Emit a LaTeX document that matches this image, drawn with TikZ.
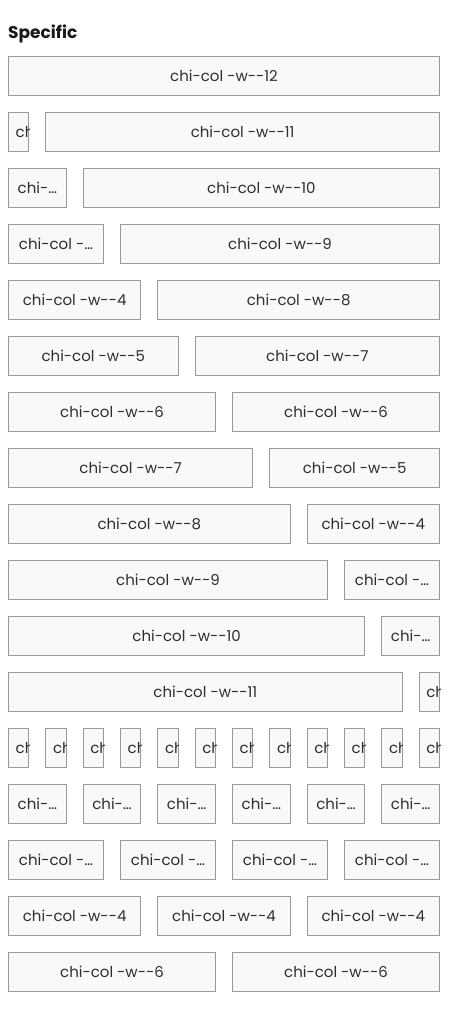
\documentclass[tikz,border=0pt]{standalone}
\usepackage{fontspec}
\setmainfont{Poppins}
\newfontfamily\boxfont{Poppins}
\definecolor{boxfill}{HTML}{F9F9F9}
\definecolor{boxline}{HTML}{9A9A9A}
\definecolor{txt}{HTML}{2E2E2E}
\tikzset{
  cbox/.style={draw=boxline, fill=boxfill, line width=1pt, inner sep=0pt,
    minimum height=39pt, text=txt, font=\boxfont\fontsize{15}{17}\selectfont},
  cliptext/.style={text=txt, font=\boxfont\fontsize{15}{17}\selectfont, inner sep=0pt, anchor=west},
  titletext/.style={text=black!90, font=\bfseries\fontsize{17}{20}\selectfont, inner sep=0pt, anchor=base west}
}
% name, row, start column, span, label
\newcommand\colbox[5]{%
  \pgfmathsetmacro\bx{8+#3*37.33333}%
  \pgfmathsetmacro\by{56+(#2-1)*56}%
  \pgfmathsetmacro\bw{#4*37.33333-17}%
  \node[cbox, minimum width=\bw pt, anchor=north west] (#1) at (\bx,\by) {#5};%
}
% one-column box with clipped text
\newcommand\colone[3]{% name,row,start
  \colbox{#1}{#2}{#3}{1}{}%
  \begin{scope}
    \clip (#1.north west) rectangle (#1.south east);
    \node[cliptext] (#1t) at ([xshift=7.5pt]#1.west) {chi};
  \end{scope}%
}
\begin{document}
\begin{tikzpicture}[x=1pt,y=-1pt]
\useasboundingbox[fill=white] (0,0) rectangle (448,1016);
\node[titletext] (title) at (8,38.7) {Specific};
% row 1
\colbox{r1a}{1}{0}{12}{chi-col -w--12}
% rows 2-12
\colone{r2a}{2}{0}
\colbox{r2b}{2}{1}{11}{chi-col -w--11}
\colbox{r3a}{3}{0}{2}{chi-…}
\colbox{r3b}{3}{2}{10}{chi-col -w--10}
\colbox{r4a}{4}{0}{3}{chi-col -…}
\colbox{r4b}{4}{3}{9}{chi-col -w--9}
\colbox{r5a}{5}{0}{4}{chi-col -w--4}
\colbox{r5b}{5}{4}{8}{chi-col -w--8}
\colbox{r6a}{6}{0}{5}{chi-col -w--5}
\colbox{r6b}{6}{5}{7}{chi-col -w--7}
\colbox{r7a}{7}{0}{6}{chi-col -w--6}
\colbox{r7b}{7}{6}{6}{chi-col -w--6}
\colbox{r8a}{8}{0}{7}{chi-col -w--7}
\colbox{r8b}{8}{7}{5}{chi-col -w--5}
\colbox{r9a}{9}{0}{8}{chi-col -w--8}
\colbox{r9b}{9}{8}{4}{chi-col -w--4}
\colbox{r10a}{10}{0}{9}{chi-col -w--9}
\colbox{r10b}{10}{9}{3}{chi-col -…}
\colbox{r11a}{11}{0}{10}{chi-col -w--10}
\colbox{r11b}{11}{10}{2}{chi-…}
\colbox{r12a}{12}{0}{11}{chi-col -w--11}
\colone{r12b}{12}{11}
% row 13: twelve 1-column boxes
\foreach \k in {0,...,11}{\colone{r13c\k}{13}{\k}}
% row 14: six 2-column boxes
\foreach \k in {0,...,5}{\colbox{r14c\k}{14}{2*\k}{2}{chi-…}}
% row 15: four 3-column boxes
\foreach \k in {0,...,3}{\colbox{r15c\k}{15}{3*\k}{3}{chi-col -…}}
% row 16: three 4-column boxes
\foreach \k in {0,...,2}{\colbox{r16c\k}{16}{4*\k}{4}{chi-col -w--4}}
% row 17: two 6-column boxes
\foreach \k in {0,...,1}{\colbox{r17c\k}{17}{6*\k}{6}{chi-col -w--6}}
\end{tikzpicture}
\end{document}
